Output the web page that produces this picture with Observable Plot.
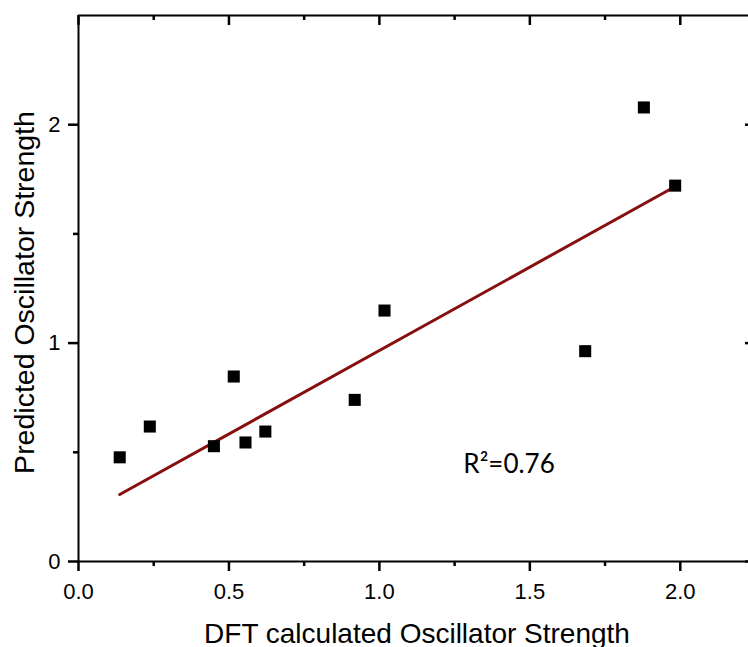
<!DOCTYPE html>
<html>
<head>
<meta charset="utf-8">
<script src="https://cdn.jsdelivr.net/npm/d3@7"></script>
<script src="https://cdn.jsdelivr.net/npm/@observablehq/plot@0.6"></script>
<style>
  html, body { margin: 0; padding: 0; background: white; overflow: hidden; }
  svg { overflow: hidden; }
</style>
</head>
<body>
<div id="chart"></div>
<script>
// DFT calculated oscillator strength (x) vs predicted oscillator strength (y)
const dftValues = [0.137, 0.237, 0.450, 0.516, 0.555, 0.621, 0.918, 1.017, 1.684, 1.879, 1.983];
const predictedValues = [0.477, 0.618, 0.528, 0.847, 0.545, 0.595, 0.740, 1.149, 0.963, 2.079, 1.721];

// fitted line
const fitSlope = 0.764;
const fitIntercept = 0.202;

// ticks
const xMajorTicks = [0, 0.5, 1.0, 1.5, 2.0];
const xMinorTicks = [0.25, 0.75, 1.25, 1.75, 2.25];
const yMajorTicks = [0, 1, 2];
const yMinorTicks = [0.5, 1.5];

// annotation
const annotation = [{x: 1.279, y: 0.405, label: "R²=0.76"}];

const xTitle = "DFT calculated Oscillator Strength";
const yTitle = "Predicted Oscillator Strength";

const points = dftValues.map((d, i) => ({x: d, y: predictedValues[i]}));
const xExtent = d3.extent(dftValues);
const fit = xExtent.map(x => ({x, y: fitIntercept + fitSlope * x}));

const font = "'Liberation Sans', Arial, sans-serif";
const ink = "#000";

// frame geometry
const W = 748, H = 647, mL = 78, mR = -7, mT = 15, mB = 86;
const xDomain = [0, 2.25], yDomain = [0, 2.5];
const frameW = W - mL - mR, frameH = H - mT - mB;
const pxPerX = frameW / (xDomain[1] - xDomain[0]);
const pxPerY = frameH / (yDomain[1] - yDomain[0]);
const sw = 2;
const tw = 2.5;
// tick lengths (pixels) converted to data units
const ly = px => px / pxPerY;
const lx = px => px / pxPerX;

const chart = Plot.plot({
  width: W,
  height: H,
  marginLeft: mL,
  marginRight: mR,
  marginTop: mT,
  marginBottom: mB,
  style: {fontFamily: font, color: ink, background: "white", fontSize: "22px"},
  x: {domain: xDomain, axis: null},
  y: {domain: yDomain, axis: null},
  marks: [
    // frame lines
    Plot.ruleX([xDomain[0]], {stroke: ink, strokeWidth: sw}),
    Plot.ruleX([xDomain[1]], {stroke: ink, strokeWidth: sw}),
    Plot.ruleY([yDomain[0]], {stroke: ink, strokeWidth: sw}),
    Plot.ruleY([yDomain[1]], {stroke: ink, strokeWidth: sw}),
    // bottom ticks (outward)
    Plot.ruleX(xMajorTicks, {x: d => d, y1: yDomain[0], y2: yDomain[0] - ly(10), stroke: ink, strokeWidth: tw}),
    Plot.ruleX(xMinorTicks, {x: d => d, y1: yDomain[0], y2: yDomain[0] - ly(5), stroke: ink, strokeWidth: tw}),
    // top ticks (inward)
    Plot.ruleX(xMajorTicks, {x: d => d, y1: yDomain[1], y2: yDomain[1] - ly(10), stroke: ink, strokeWidth: tw}),
    Plot.ruleX(xMinorTicks, {x: d => d, y1: yDomain[1], y2: yDomain[1] - ly(5), stroke: ink, strokeWidth: tw}),
    // left ticks (outward)
    Plot.ruleY(yMajorTicks, {y: d => d, x1: xDomain[0] - lx(10), x2: xDomain[0], stroke: ink, strokeWidth: tw}),
    Plot.ruleY(yMinorTicks, {y: d => d, x1: xDomain[0] - lx(5), x2: xDomain[0], stroke: ink, strokeWidth: tw}),
    // right ticks (inward)
    Plot.ruleY(yMajorTicks, {y: d => d, x1: xDomain[1] - lx(10), x2: xDomain[1], stroke: ink, strokeWidth: tw}),
    Plot.ruleY(yMinorTicks, {y: d => d, x1: xDomain[1] - lx(5), x2: xDomain[1], stroke: ink, strokeWidth: tw}),
    // tick labels
    Plot.axisX({anchor: "bottom", ticks: xMajorTicks, tickSize: 0, tickPadding: 22,
      tickFormat: d3.format(".1f"), fontSize: 22, label: null, fill: ink}),
    Plot.axisY({anchor: "left", ticks: yMajorTicks, tickSize: 0, tickPadding: 18,
      tickFormat: d3.format("d"), fontSize: 22, label: null, fill: ink}),
    // fit line
    Plot.line(fit, {x: "x", y: "y", stroke: "#870f0f", strokeWidth: 3}),
    // data
    Plot.dot(points, {x: "x", y: "y", symbol: "square", r: 6.8, fill: ink, stroke: null}),
    // annotation
    Plot.text(annotation, {x: "x", y: "y", text: "label", textAnchor: "start", lineAnchor: "bottom",
      fontSize: 26, fontFamily: "Lato, 'Open Sans', sans-serif", fill: ink}),
    // axis titles
    Plot.text([xTitle], {frameAnchor: "bottom", dy: 81, lineAnchor: "bottom", textAnchor: "middle", fontSize: 28, fill: ink}),
    Plot.text([yTitle], {frameAnchor: "left", dx: -45, dy: 4, rotate: -90, lineAnchor: "bottom", textAnchor: "middle", fontSize: 28.5, fill: ink})
  ]
});

document.getElementById("chart").appendChild(chart);
</script>
</body>
</html>
